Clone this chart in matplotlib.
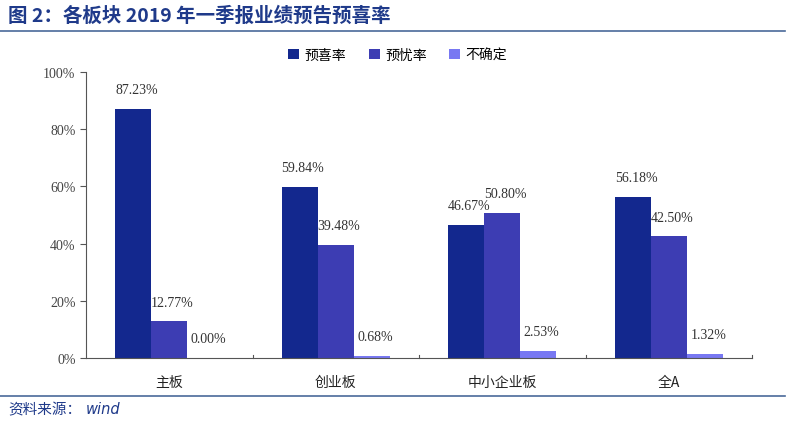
import matplotlib.pyplot as plt
import numpy as np

# data
categories = ['主板', '创业板', '中小企业板', '全A']
series_names = ['预喜率', '预忧率', '不确定']
yuxi = [87.23, 59.84, 46.67, 56.18]
yuyou = [12.77, 39.48, 50.80, 42.50]
buqueding = [0.00, 0.68, 2.53, 1.32]
yticks = [0, 20, 40, 60, 80, 100]

colors = ['#13288e', '#3d3db3', '#7878f2']
serif = ['Liberation Serif', 'Noto Sans CJK SC']
cjk = ['Noto Sans CJK SC', 'DejaVu Sans']

fig = plt.figure(figsize=(7.89, 4.31), dpi=100)
ax = fig.add_axes([86 / 789, 1 - 359 / 431, 666 / 789, 286 / 431])

x = np.arange(len(categories))
w = 0.217
values = [yuxi, yuyou, buqueding]
for i, vals in enumerate(values):
    pos = x + (i - 1) * w
    ax.bar(pos, vals, width=w, color=colors[i], label=series_names[i], zorder=2)
    for p, v in zip(pos, vals):
        ax.text(p + 0.02, v + 4.5, '%.2f%%' % v, ha='center', va='bottom',
                fontsize=10, family=serif, color='#333333')

ax.set_xlim(-0.5, len(categories) - 0.5)
ax.set_ylim(0, 100)
ax.set_yticks(yticks)
ax.set_yticklabels(['%d%%' % t for t in yticks], family=serif, fontsize=10, color='#444444')
ax.set_xticks(x)
ax.set_xticklabels(categories, family=cjk, fontsize=10, color='#222222')
ax.tick_params(axis='x', length=0, pad=12)
ax.tick_params(axis='y', direction='out', length=4, color='#555555')
# divider ticks between categories on the x axis
for d in np.arange(0.5, len(categories), 1.0):
    ax.plot([d, d], [0, 1.2], color='#555555', lw=0.8, clip_on=False)
for s in ['top', 'right']:
    ax.spines[s].set_visible(False)
ax.spines['left'].set_color('#555555')
ax.spines['bottom'].set_color('#555555')

leg = ax.legend(loc='center', bbox_to_anchor=(0.468, 1.06), ncol=3, frameon=False,
                prop={'family': cjk, 'size': 10}, handlelength=0.8, handleheight=0.8,
                handletextpad=0.4, columnspacing=1.6)

# title and source
fig.text(8 / 789, 1 - 16 / 431, '图 2：各板块 2019 年一季报业绩预告预喜率', family=cjk,
         fontsize=14, fontweight='bold', color='#1f3a8a', va='center')
fig.add_artist(plt.Line2D([0, 785 / 789], [1 - 32 / 431, 1 - 32 / 431], color='#4a6a9a', lw=1.2))
fig.add_artist(plt.Line2D([0, 785 / 789], [1 - 397 / 431, 1 - 397 / 431], color='#4a6a9a', lw=1.2))
fig.text(8 / 789, 1 - 410 / 431, '资料来源：', family=cjk, fontsize=10.5,
         color='#1f3a8a', va='center')
fig.text(86 / 789, 1 - 410 / 431, 'wind', family=['DejaVu Sans'], fontsize=10.5, style='italic',
         color='#1f3a8a', va='center')

plt.savefig('out.png', dpi=100)
